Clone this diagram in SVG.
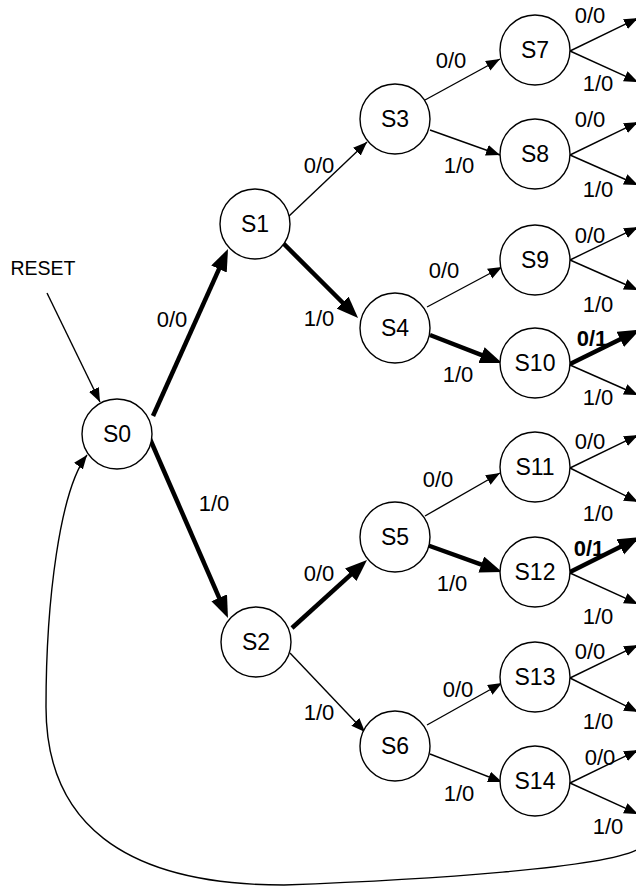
<svg xmlns="http://www.w3.org/2000/svg" width="636" height="886" viewBox="0 0 636 886">
  <defs>
    <style>
      .state circle { fill: #ffffff; stroke: #000000; stroke-width: 1.4; }
      .state text { font-family: "Liberation Sans", Arial, sans-serif; font-size: 23px; fill: #000; text-anchor: middle; }
      .edge { fill: none; stroke: #000; stroke-width: 1.4; marker-end: url(#arrow); }
      .edge.bold { stroke-width: 4.5; marker-end: url(#arrowBold); }
      .lbl { font-family: "Liberation Sans", Arial, sans-serif; font-size: 22px; fill: #000; text-anchor: middle; }
      .lbl.b { font-weight: bold; }
      .reset { font-family: "Liberation Sans", Arial, sans-serif; font-size: 19.5px; fill: #000; text-anchor: middle; }
    </style>
    <marker id="arrow" markerUnits="userSpaceOnUse" markerWidth="15" markerHeight="12" refX="14" refY="5.5" orient="auto">
      <path d="M0,0 L14,5.5 L0,11 z" fill="#000"/>
    </marker>
    <marker id="arrowBold" markerUnits="userSpaceOnUse" markerWidth="23" markerHeight="18" refX="12" refY="8.5" orient="auto">
      <path d="M0,0 L22,8.5 L0,17 z" fill="#000"/>
    </marker>
  </defs>
  <rect width="636" height="886" fill="#ffffff"/>

  <!-- transitions -->
  <g id="connectors">
    <!-- reset entry and return loop -->
    <path class="edge" d="M47,293 L100,402"/>
    <path class="edge" d="M640,848 C612,868 420,880 284,885 C120,885 46,820 46,707 C46,600 60,490 87,455"/>

    <!-- level 0 -> 1 -->
    <path class="edge bold" d="M153,416 L223.9,258.1"/>
    <path class="edge bold" d="M150,439 L224,608.8"/>

    <!-- level 1 -> 2 -->
    <path class="edge" d="M288,217 L367,142"/>
    <path class="edge bold" d="M283,243 L351,311"/>
    <path class="edge bold" d="M292,628 L359.6,566.7"/>
    <path class="edge" d="M290,653 L365,732"/>

    <!-- level 2 -> 3 -->
    <path class="edge" d="M425,100 L500,59"/>
    <path class="edge" d="M430,130 L500,155"/>
    <path class="edge" d="M427,307 L502,267"/>
    <path class="edge bold" d="M430,335 L492.7,359.4"/>
    <path class="edge" d="M425,516 L500,473"/>
    <path class="edge bold" d="M427,545 L492.6,568.6"/>
    <path class="edge" d="M427,725 L502,683"/>
    <path class="edge" d="M430,754 L502,782"/>

    <!-- level 3 outgoing -->
    <path class="edge" d="M570,51 L638,18"/>
    <path class="edge" d="M570,51 L638,82"/>
    <path class="edge" d="M570,155 L638,122"/>
    <path class="edge" d="M570,155 L638,185"/>
    <path class="edge" d="M570,260 L638,227"/>
    <path class="edge" d="M570,260 L638,290"/>
    <path class="edge bold" d="M568,365 L631,334"/>
    <path class="edge" d="M570,365 L638,395"/>
    <path class="edge" d="M570,468 L638,435"/>
    <path class="edge" d="M570,468 L638,502"/>
    <path class="edge bold" d="M568,573 L631,541.5"/>
    <path class="edge" d="M570,573 L638,604"/>
    <path class="edge" d="M570,678 L638,645"/>
    <path class="edge" d="M570,678 L638,712"/>
    <path class="edge" d="M570,783 L638,750"/>
    <path class="edge" d="M570,783 L638,814"/>
  </g>

  <!-- transition labels -->
  <g id="labels">
    <text class="reset" x="43" y="275">RESET</text>
    <text class="lbl" x="172" y="327">0/0</text>
    <text class="lbl" x="214" y="511">1/0</text>
    <text class="lbl" x="319" y="173">0/0</text>
    <text class="lbl" x="319" y="326">1/0</text>
    <text class="lbl" x="319" y="581">0/0</text>
    <text class="lbl" x="319" y="720">1/0</text>
    <text class="lbl" x="451" y="68">0/0</text>
    <text class="lbl" x="459" y="173">1/0</text>
    <text class="lbl" x="444" y="278">0/0</text>
    <text class="lbl" x="458" y="382">1/0</text>
    <text class="lbl" x="438" y="487">0/0</text>
    <text class="lbl" x="452" y="591">1/0</text>
    <text class="lbl" x="458" y="697">0/0</text>
    <text class="lbl" x="459" y="801">1/0</text>

    <text class="lbl" x="590" y="23">0/0</text>
    <text class="lbl" x="598" y="91">1/0</text>
    <text class="lbl" x="590" y="127">0/0</text>
    <text class="lbl" x="598" y="197">1/0</text>
    <text class="lbl" x="590" y="243">0/0</text>
    <text class="lbl" x="598" y="312">1/0</text>
    <text class="lbl b" x="592" y="346">0/1</text>
    <text class="lbl" x="598" y="405">1/0</text>
    <text class="lbl" x="590" y="449">0/0</text>
    <text class="lbl" x="598" y="521">1/0</text>
    <text class="lbl b" x="589" y="556">0/1</text>
    <text class="lbl" x="598" y="624">1/0</text>
    <text class="lbl" x="590" y="659">0/0</text>
    <text class="lbl" x="598" y="729">1/0</text>
    <text class="lbl" x="600" y="765">0/0</text>
    <text class="lbl" x="608" y="834">1/0</text>
  </g>

  <!-- states -->
  <g id="S0" class="state"><circle cx="117" cy="434" r="35"/><text x="117" y="442">S0</text></g>
  <g id="S1" class="state"><circle cx="255" cy="224" r="35"/><text x="255" y="232">S1</text></g>
  <g id="S2" class="state"><circle cx="256" cy="642" r="35"/><text x="256" y="650">S2</text></g>
  <g id="S3" class="state"><circle cx="395" cy="119" r="35"/><text x="395" y="127">S3</text></g>
  <g id="S4" class="state"><circle cx="395" cy="328" r="35"/><text x="395" y="336">S4</text></g>
  <g id="S5" class="state"><circle cx="395" cy="537" r="35"/><text x="395" y="545">S5</text></g>
  <g id="S6" class="state"><circle cx="395" cy="746" r="35"/><text x="395" y="754">S6</text></g>
  <g id="S7" class="state"><circle cx="535" cy="50" r="35"/><text x="535" y="58">S7</text></g>
  <g id="S8" class="state"><circle cx="535" cy="154" r="35"/><text x="535" y="162">S8</text></g>
  <g id="S9" class="state"><circle cx="535" cy="260" r="35"/><text x="535" y="268">S9</text></g>
  <g id="S10" class="state"><circle cx="535" cy="363" r="35"/><text x="535" y="371">S10</text></g>
  <g id="S11" class="state"><circle cx="535" cy="467" r="35"/><text x="535" y="475">S11</text></g>
  <g id="S12" class="state"><circle cx="535" cy="572" r="35"/><text x="535" y="580">S12</text></g>
  <g id="S13" class="state"><circle cx="535" cy="677" r="35"/><text x="535" y="685">S13</text></g>
  <g id="S14" class="state"><circle cx="535" cy="781" r="35"/><text x="535" y="789">S14</text></g>
</svg>
